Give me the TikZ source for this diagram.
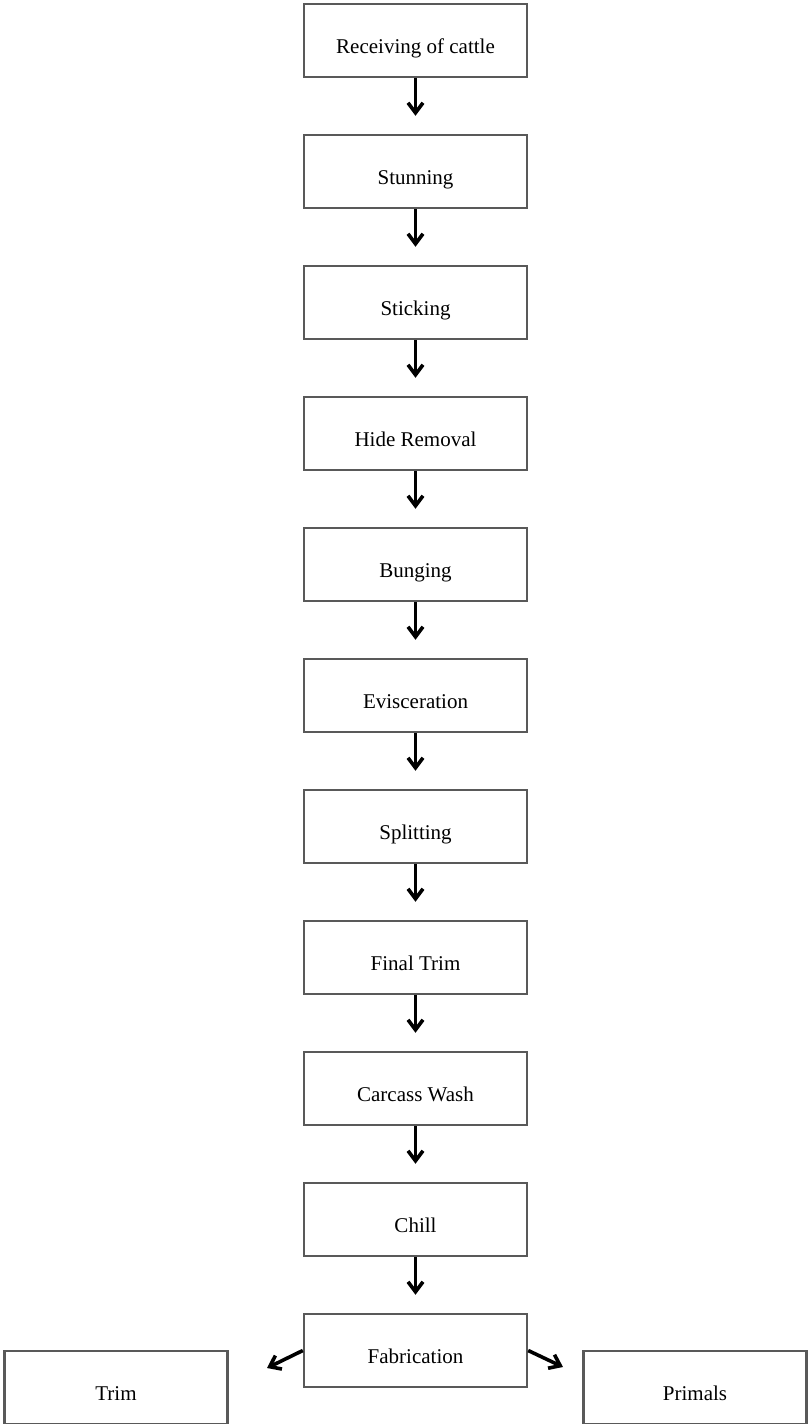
\documentclass[tikz,border=0pt]{standalone}
\usepackage{fontspec}
\setmainfont{Liberation Serif}
\usetikzlibrary{positioning,arrows.meta}
\begin{document}
\begin{tikzpicture}[>={Straight Barb[length=5pt,width=7.5pt]}, x=0.5pt, y=-0.5pt,
	stage/.style={draw=black!65, line width=1.2pt, minimum width=111.5pt, minimum height=36.5pt,
		inner sep=0pt, text height=12.5pt, text depth=0pt, font=\fontsize{10.5}{12}\selectfont},
	flow/.style={->, line width=1.8pt, shorten >=9pt},
	node distance=27.8pt]
\useasboundingbox (0,0) rectangle (808,1424);

\node[stage] (recv) at (415.5,40.5) {Receiving of cattle};
\node[stage, below=of recv] (stun) {Stunning};
\node[stage, below=of stun] (stick) {Sticking};
\node[stage, below=of stick] (hide) {Hide Removal};
\node[stage, below=of hide] (bung) {Bunging};
\node[stage, below=of bung] (evis) {Evisceration};
\node[stage, below=of evis] (split) {Splitting};
\node[stage, below=of split] (trim) {Final Trim};
\node[stage, below=of trim] (wash) {Carcass Wash};
\node[stage, below=of wash] (chill) {Chill};
\node[stage, below=of chill] (fab) {Fabrication};

\node[stage] (trimout) at (116,1387.5) {Trim};
\node[stage] (primals) at (695,1387.5) {Primals};

\foreach \a/\b in {recv/stun, stun/stick, stick/hide, hide/bung, bung/evis,
	evis/split, split/trim, trim/wash, wash/chill, chill/fab}
{
	\draw[flow] (\a.south) -- (\b.north);
}

\coordinate (tipl) at (267,1368);
\coordinate (tipr) at (563,1367);
\draw[->, line width=1.8pt] (fab.west) -- (tipl);
\draw[->, line width=1.8pt] (fab.east) -- (tipr);

\end{tikzpicture}
\end{document}
